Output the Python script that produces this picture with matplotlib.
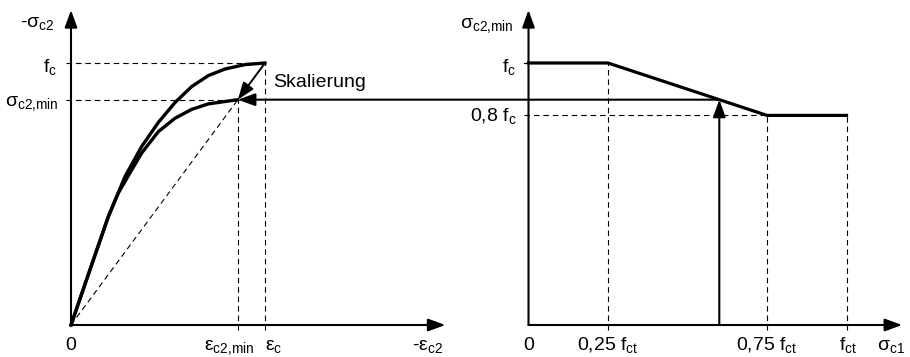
import numpy as np
import matplotlib
matplotlib.use('Agg')
from matplotlib import pyplot as plt
from matplotlib.patches import ConnectionPatch

plt.rcParams['font.family'] = ['Liberation Sans', 'DejaVu Sans']
plt.rcParams['mathtext.fontset'] = 'custom'
plt.rcParams['mathtext.rm'] = 'Liberation Sans'
plt.rcParams['mathtext.it'] = 'Liberation Sans'
plt.rcParams['mathtext.bf'] = 'Liberation Sans:bold'

# left diagram: stress-strain curves (eps / eps_c, sigma / f_c)
eps_upper = [0, 0.115, 0.192, 0.278, 0.364, 0.450, 0.536, 0.622, 0.708, 0.794, 0.897, 1.0]
sig_upper = [0, 0.248, 0.413, 0.566, 0.681, 0.773, 0.849, 0.910, 0.952, 0.977, 0.994, 1.0]
eps_lower = [0, 0.115, 0.192, 0.244, 0.313, 0.364, 0.450, 0.536, 0.622, 0.708, 0.794, 0.86]
sig_lower = [0, 0.248, 0.413, 0.504, 0.592, 0.656, 0.738, 0.789, 0.823, 0.844, 0.853, 0.86]
eps_c = 1.0
f_c = 1.0
eps_min = 0.86
sig_min = 0.86

# right diagram: reduction of compressive strength (sigma_c1 / f_ct)
sc1 = [0, 0.25, 0.75, 1.0]
sc2min = [1.0, 1.0, 0.8, 0.8]
sc1_sel = 0.6

left_xlabels = ['0', r'$\mathregular{ε_{c2{,}min}}$', r'$\mathregular{ε_c}$', r'-$\mathregular{ε_{c2}}$']
right_xlabels = ['0', r'0,25 $\mathregular{f_{ct}}$', r'0,75 $\mathregular{f_{ct}}$', r'$\mathregular{f_{ct}}$', r'$\mathregular{σ_{c1}}$']

W, H = 910, 357
fig = plt.figure(figsize=(W / 100, H / 100), dpi=100)

ux_l, uy = 194.0, 262.0   # pixels per unit
ux_r = 318.0
x0_l, x0_r, y0 = 71.0, 528.5, 325.0
xmax_l, xmax_r, ymax = 1.93, 1.175, 1.202

axL = fig.add_axes([x0_l / W, (H - y0) / H, xmax_l * ux_l / W, ymax * uy / H])
axR = fig.add_axes([x0_r / W, (H - y0) / H, xmax_r * ux_r / W, ymax * uy / H])
for ax, xm in ((axL, xmax_l), (axR, xmax_r)):
    ax.set_xlim(0, xm)
    ax.set_ylim(0, ymax)
    ax.axis('off')

ap = dict(arrowstyle='-|>,head_length=0.55,head_width=0.2', color='k', lw=1.5,
          mutation_scale=19, shrinkA=0, shrinkB=0)
dash = dict(color='k', lw=0.8, ls=(0, (5, 3.5)), clip_on=False)
fs = 14


def arrow(ax, start, end, lw=1.5):
    p = dict(ap)
    p['lw'] = lw
    ax.annotate('', xy=end, xytext=start, arrowprops=p, annotation_clip=False)


def label(ax, s, xy, off, ha):
    ax.annotate(s, xy=xy, xytext=off, textcoords='offset pixels', ha=ha,
                va='baseline', fontsize=fs, annotation_clip=False)


# ---- left ----
tl_x = 5 / ux_l
tl_y = 5 / uy
axL.plot([-tl_x, eps_c], [f_c, f_c], **dash)
axL.plot([-tl_x, eps_min], [sig_min, sig_min], **dash)
axL.plot([eps_c, eps_c], [-tl_y, f_c], **dash)
axL.plot([eps_min, eps_min], [-tl_y, sig_min], **dash)
axL.plot([0, eps_min], [0, sig_min], **dash)
axL.plot(eps_upper, sig_upper, color='k', lw=2.4, solid_joinstyle='round', clip_on=False)
axL.plot(eps_lower, sig_lower, color='k', lw=2.4, solid_joinstyle='round', clip_on=False)
arrow(axL, (0, 0), (0, ymax))
arrow(axL, (0, 0), (xmax_l, 0))
arrow(axL, (eps_c, f_c), (eps_min, sig_min), lw=1.4)

label(axL, r'-$\mathregular{σ_{c2}}$', (0, ymax), (-17, -17), 'right')
label(axL, r'$\mathregular{f_c}$', (0, f_c), (-14, -9), 'right')
label(axL, r'$\mathregular{σ_{c2{,}min}}$', (0, sig_min), (-12, -6), 'right')
label(axL, left_xlabels[0], (0, 0), (0, -25), 'center')
label(axL, left_xlabels[1], (eps_min, 0), (-9, -25), 'center')
label(axL, left_xlabels[2], (eps_c, 0), (0, -25), 'left')
label(axL, left_xlabels[3], (xmax_l, 0), (-2, -25), 'right')
label(axL, 'Skalierung', (eps_c, f_c), (8, -24), 'left')

# ---- right ----
tr_x = 5 / ux_r
axR.plot([-tr_x, 0], [sc2min[0], sc2min[0]], color='k', lw=0.8, clip_on=False)
axR.plot([-tr_x, sc1[2]], [sc2min[2], sc2min[2]], **dash)
for xv, yv in zip(sc1[1:], sc2min[1:]):
    axR.plot([xv, xv], [-tl_y, yv], **dash)
axR.plot(sc1, sc2min, color='k', lw=2.3, solid_joinstyle='round', clip_on=False)
arrow(axR, (0, 0), (0, ymax))
arrow(axR, (0, 0), (xmax_r, 0))
arrow(axR, (sc1_sel, 0), (sc1_sel, sig_min))

label(axR, r'$\mathregular{σ_{c2{,}min}}$', (0, ymax), (-15, -18), 'right')
label(axR, r'$\mathregular{f_c}$', (0, sc2min[0]), (-12, -9), 'right')
label(axR, r'0,8 $\mathregular{f_c}$', (0, sc2min[2]), (-12, -6), 'right')
label(axR, right_xlabels[0], (0, 0), (0, -25), 'center')
label(axR, right_xlabels[1], (sc1[1], 0), (0, -25), 'center')
label(axR, right_xlabels[2], (sc1[2], 0), (0, -25), 'center')
label(axR, right_xlabels[3], (sc1[3], 0), (2, -25), 'center')
label(axR, right_xlabels[4], (xmax_r, 0), (3, -25), 'right')

# horizontal transfer arrow from right diagram to left curve
con = ConnectionPatch(xyA=(sc1_sel, sig_min), coordsA=axR.transData,
                      xyB=(eps_min, sig_min), coordsB=axL.transData,
                      arrowstyle=ap['arrowstyle'], mutation_scale=19,
                      lw=1.5, color='k', shrinkA=0, shrinkB=0)
fig.add_artist(con)

fig.savefig('out.png', dpi=100)
